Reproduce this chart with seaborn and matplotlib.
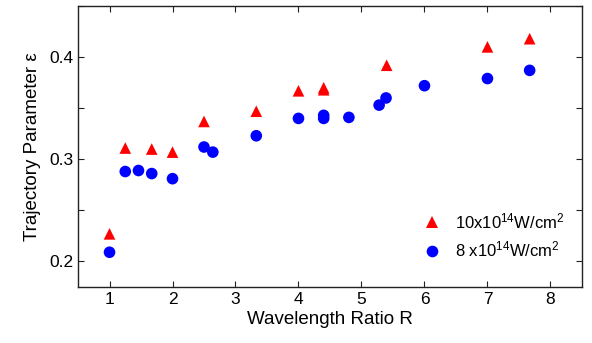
import seaborn as sns
import pandas as pd
import matplotlib.pyplot as plt
from matplotlib.ticker import MultipleLocator

# values
r_high = [1.0, 1.25, 1.67, 2.0, 2.5, 3.33, 4.0, 4.4, 4.4, 5.4, 7.0, 7.67]
eps_high = [0.227, 0.311, 0.310, 0.307, 0.337, 0.347, 0.367, 0.368, 0.370, 0.392, 0.410, 0.418]
r_low = [1.0, 1.25, 1.46, 1.67, 2.0, 2.5, 2.64, 3.33, 4.0, 4.4, 4.4, 4.8, 5.28, 5.39, 6.0, 7.0, 7.67]
eps_low = [0.209, 0.288, 0.289, 0.286, 0.281, 0.312, 0.307, 0.323, 0.340, 0.340, 0.343, 0.341,
           0.353, 0.360, 0.372, 0.379, 0.387]
series = ['10x10$^{14}$W/cm$^2$', '8 x10$^{14}$W/cm$^2$']

df = pd.concat([
    pd.DataFrame({'R': r_high, 'eps': eps_high, 'I': series[0]}),
    pd.DataFrame({'R': r_low, 'eps': eps_low, 'I': series[1]}),
])

sns.set_style('ticks')
plt.rcParams['font.family'] = ['Liberation Sans', 'DejaVu Sans']
plt.rcParams['mathtext.fontset'] = 'custom'
plt.rcParams['mathtext.rm'] = 'Liberation Sans'
plt.rcParams['mathtext.it'] = 'Liberation Sans:italic'
plt.rcParams['text.color'] = 'black'
plt.rcParams['axes.labelcolor'] = 'black'

fig = plt.figure(figsize=(5.92, 3.43), dpi=100)
ax = fig.add_axes([0.1318, 0.1633, 0.8512, 0.8192])

sns.scatterplot(data=df, x='R', y='eps', hue='I', style='I',
                palette={series[0]: '#ff0000', series[1]: '#0000ff'},
                markers={series[0]: '^', series[1]: 'o'},
                s=70, linewidth=0, ax=ax)

ax.set_xlim(0.5, 8.5)
ax.set_ylim(0.175, 0.45)
ax.xaxis.set_major_locator(MultipleLocator(1))
ax.yaxis.set_major_locator(MultipleLocator(0.1))
ax.yaxis.set_minor_locator(MultipleLocator(0.05))
ax.tick_params(which='both', direction='in', top=True, right=True,
               length=4, width=0.8, labelsize=12.5, color='#222222',
               labelcolor='black')
for sp in ax.spines.values():
    sp.set_linewidth(1.0)
    sp.set_color('#222222')
    sp.set_visible(True)

ax.set_xlabel('Wavelength Ratio R', fontsize=13.5, labelpad=3)
ax.set_ylabel('Trajectory Parameter ε', fontsize=13.5, labelpad=6)

leg = ax.legend(loc='lower right', bbox_to_anchor=(0.995, 0.045), frameon=False,
                fontsize=12, handletextpad=0.4, labelspacing=0.5, markerscale=1.0)

fig.savefig('out.png', dpi=100)
